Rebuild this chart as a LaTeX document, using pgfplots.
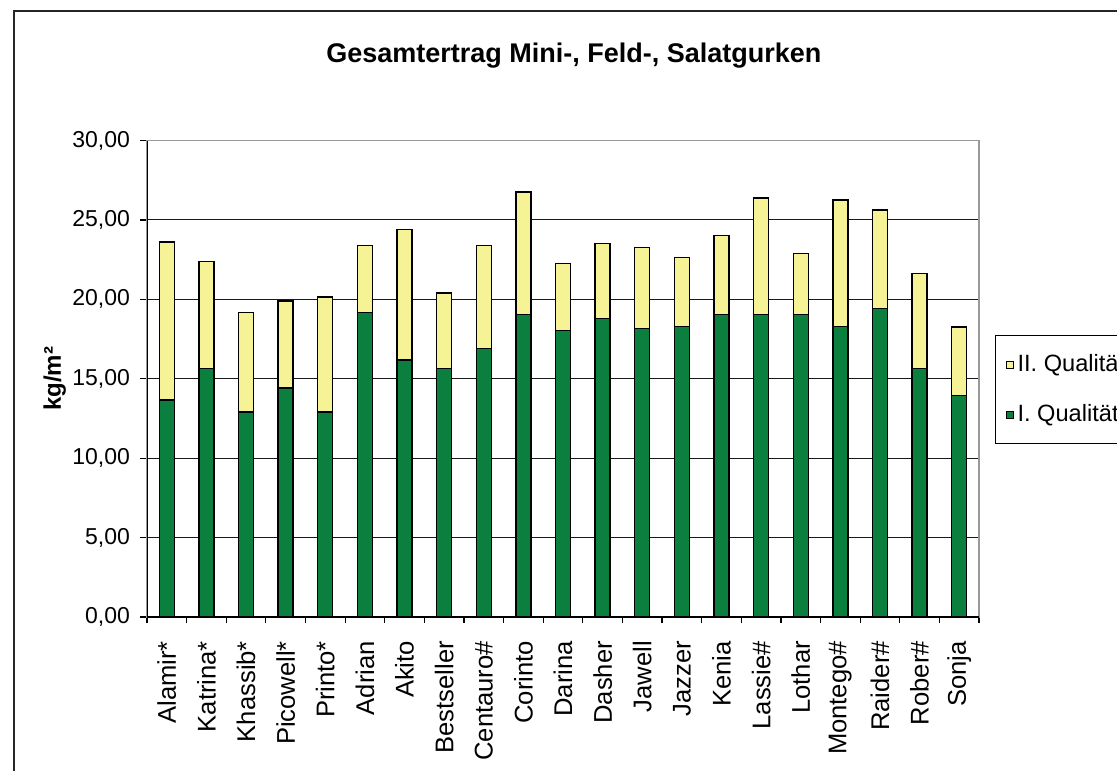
\documentclass[border=0pt]{standalone}
\usepackage{pgfplots}
\pgfplotsset{compat=1.18}
\usepackage{fontspec}
\setmainfont{Liberation Sans}
\definecolor{qgreen}{RGB}{11,128,62}
\definecolor{qyellow}{RGB}{246,243,150}
\begin{document}
\begin{tikzpicture}
\useasboundingbox (0pt,0pt) rectangle (558.5pt,-385pt);
\draw[line width=0.8pt, black!85] (7pt,-400pt) -- (7pt,-5.5pt) -- (600pt,-5.5pt);
\begin{axis}[
  at={(73.5pt,-308.5pt)}, anchor=south west,
  scale only axis, width=416pt, height=238.25pt,
  ybar stacked, bar width=7.5pt,
  xmin=-0.5, xmax=20.5, ymin=0, ymax=30,
  ytick={0,5,...,30},
  xtick={0,...,20},
  xticklabels={Alamir*,Katrina*,Khassib*,Picowell*,Printo*,Adrian,Akito,Bestseller,Centauro\#,Corinto,Darina,Dasher,Jawell,Jazzer,Kenia,Lassie\#,Lothar,Montego\#,Raider\#,Rober\#,Sonja},
  minor xtick={-0.5,0.5,...,20.5},
  xtick pos=left, ytick pos=left,
  major x tick style={draw=none},
  minor x tick style={black, line width=0.6pt},
  y tick style={black, line width=0.6pt},
  tick align=outside,
  major tick length=3.5pt, minor tick length=3pt,
  ymajorgrids,
  major grid style={black!90, line width=0.55pt},
  axis line style={black!40, line width=0.6pt},
  /pgf/number format/.cd, use comma, fixed, fixed zerofill, precision=2, assume math mode=true,
  /pgfplots/.cd,
  yticklabel style={font=\fontsize{11.5}{12}\selectfont, xshift=-1.5pt},
  xticklabel style={font=\fontsize{12.8}{13}\selectfont, rotate=90, anchor=east, xshift=-5pt},
  ylabel={\bfseries kg/m²},
  ylabel style={at={(rel axis cs:-0.111,0.5)}, anchor=center, font=\fontsize{12}{12}\selectfont},
  title={Gesamtertrag Mini-, Feld-, Salatgurken},
  title style={at={(rel axis cs:0.513,1.152)}, anchor=center, yshift=0pt, font=\fontsize{13.5}{14}\selectfont\bfseries},
  legend style={at={(rel axis cs:1.0192,0.592)}, anchor=north west, draw=black, line width=0.6pt,
    font=\fontsize{11.8}{12}\selectfont, inner xsep=5pt, inner ysep=7.5pt, row sep=11pt, legend cell align=left},
  legend image code/.code={\draw[#1, draw=black, line width=0.5pt] (0pt,-1.75pt) rectangle (3.5pt,1.75pt);},
  reverse legend,
]
\addplot[fill=qgreen, draw=black, line width=0.7pt] coordinates {
(0,13.66) (1,15.65) (2,12.90) (3,14.43) (4,12.90) (5,19.16) (6,16.18) (7,15.65) (8,16.89) (9,19.03)
(10,18.03) (11,18.78) (12,18.15) (13,18.28) (14,19.03) (15,19.03) (16,19.03) (17,18.28) (18,19.41) (19,15.65) (20,13.93)};
\addplot[fill=qyellow, draw=black, line width=0.7pt] coordinates {
(0,9.95) (1,6.74) (2,6.26) (3,5.46) (4,7.25) (5,4.22) (6,8.21) (7,4.75) (8,6.49) (9,7.73)
(10,4.24) (11,4.73) (12,5.11) (13,4.37) (14,4.98) (15,7.36) (16,3.85) (17,7.98) (18,6.22) (19,5.99) (20,4.33)};
\legend{I. Qualität, II. Qualität}
\draw[black, line width=0.6pt] (rel axis cs:0,1) -- (rel axis cs:0,0) -- (rel axis cs:1,0);
\end{axis}
\end{tikzpicture}
\end{document}
